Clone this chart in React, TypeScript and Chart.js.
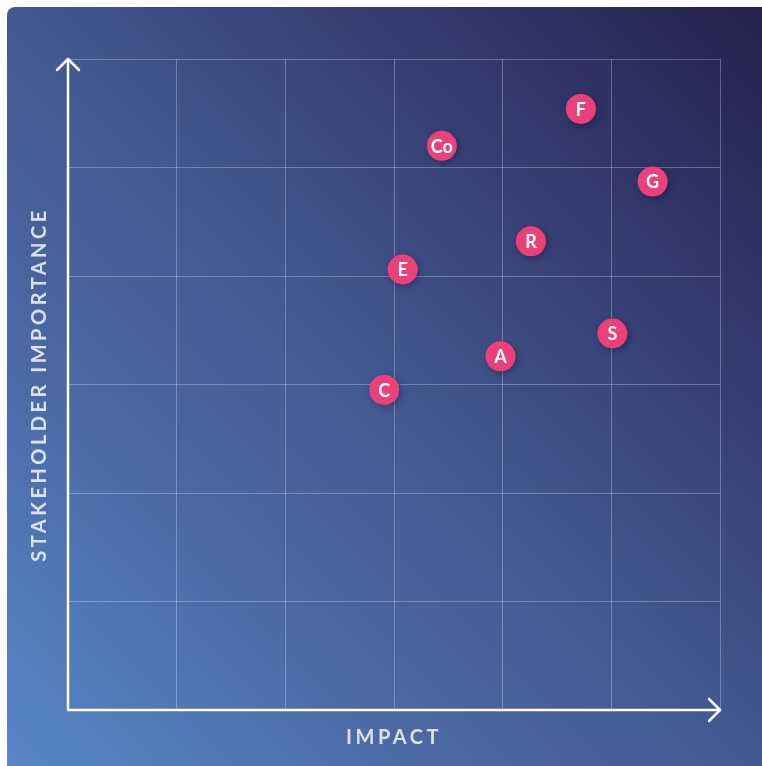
import React, { useEffect, useRef } from 'react';
import { Chart, registerables } from 'chart.js';

Chart.register(...registerables);

// ---- data ----
const pointLabels = ['F', 'Co', 'G', 'R', 'E', 'S', 'A', 'C'];
const impactValues = [4.72, 3.44, 5.38, 4.26, 3.08, 5.01, 3.98, 2.91];
const importanceValues = [5.54, 5.2, 4.87, 4.32, 4.06, 3.47, 3.26, 2.95];
const axisMin = 0;
const axisMax = 6;
const axisStep = 1;
const xAxisTitle = 'IMPACT';
const yAxisTitle = 'STAKEHOLDER IMPORTANCE';

const PINK = '#EC407A';

const decorPlugin = {
  id: 'decor',
  beforeDraw(chart: any) {
    (chart.ctx as any).letterSpacing = '3.5px';
  },
  beforeDatasetsDraw(chart: any) {
    const ctx = chart.ctx;
    (ctx as any).letterSpacing = '0px';
    const { left, right, top, bottom } = chart.chartArea;
    ctx.save();
    ctx.strokeStyle = '#ffffff';
    ctx.lineWidth = 2.5;
    ctx.lineCap = 'round';
    ctx.lineJoin = 'round';
    ctx.beginPath();
    ctx.moveTo(left, top);
    ctx.lineTo(left, bottom);
    ctx.lineTo(right, bottom);
    ctx.stroke();
    const a = 11;
    ctx.beginPath();
    ctx.moveTo(left - a, top + a);
    ctx.lineTo(left, top);
    ctx.lineTo(left + a, top + a);
    ctx.moveTo(right - a, bottom - a);
    ctx.lineTo(right, bottom);
    ctx.lineTo(right - a, bottom + a);
    ctx.stroke();
    ctx.restore();
  },
  beforeDatasetDraw(chart: any) {
    const ctx = chart.ctx;
    ctx.save();
    ctx.shadowColor = 'rgba(10, 10, 40, 0.35)';
    ctx.shadowBlur = 6;
    ctx.shadowOffsetX = 2;
    ctx.shadowOffsetY = 2;
  },
  afterDatasetDraw(chart: any) {
    chart.ctx.restore();
  },
  afterDatasetsDraw(chart: any) {
    const ctx = chart.ctx;
    const meta = chart.getDatasetMeta(0);
    ctx.save();
    ctx.fillStyle = '#ffffff';
    ctx.font = 'bold 18px Lato';
    ctx.textAlign = 'center';
    ctx.textBaseline = 'middle';
    meta.data.forEach((el: any, i: number) => {
      ctx.fillText(pointLabels[i], el.x, el.y + 1);
    });
    ctx.restore();
  },
};

export default function App() {
  const canvasRef = useRef<HTMLCanvasElement | null>(null);

  useEffect(() => {
    if (!canvasRef.current) return;
    const data = impactValues.map((x, i) => ({ x, y: importanceValues[i] }));
    const gridOpts = {
      color: 'rgba(255,255,255,0.28)',
      lineWidth: 1,
      drawTicks: false,
    };
    const chart = new Chart(canvasRef.current, {
      type: 'scatter',
      data: {
        labels: pointLabels,
        datasets: [
          {
            data,
            backgroundColor: PINK,
            borderWidth: 0,
            pointRadius: 15,
            pointHoverRadius: 15,
          },
        ],
      },
      options: {
        responsive: false,
        animation: false,
        devicePixelRatio: 1,
        layout: { padding: { left: 21, right: 42, top: 52, bottom: 16 } },
        plugins: { legend: { display: false }, tooltip: { enabled: false } },
        scales: {
          x: {
            type: 'linear',
            min: axisMin,
            max: axisMax,
            ticks: { display: false, stepSize: axisStep },
            grid: gridOpts,
            border: { display: false },
            title: {
              display: true,
              text: xAxisTitle,
              color: 'rgba(255,255,255,0.8)',
              font: { family: 'Lato', size: 20, weight: 'bold' },
              padding: { top: 16, bottom: 0 },
            },
          },
          y: {
            type: 'linear',
            min: axisMin,
            max: axisMax,
            ticks: { display: false, stepSize: axisStep },
            grid: gridOpts,
            border: { display: false },
            title: {
              display: true,
              text: yAxisTitle,
              color: 'rgba(255,255,255,0.8)',
              font: { family: 'Lato', size: 20, weight: 'bold' },
              padding: { top: 0, bottom: 16 },
            },
          },
        },
      },
      plugins: [decorPlugin],
    });
    return () => chart.destroy();
  }, []);

  return (
    <div
      style={{
        position: 'absolute',
        left: 7,
        top: 7,
        width: 755,
        height: 759,
        borderRadius: '8px 0 0 0',
        overflow: 'hidden',
        background:
          'linear-gradient(to top right, #5886c9 0%, #4a68a2 30%, #435891 50%, #363f73 72%, #25204d 100%)',
      }}
    >
      <canvas ref={canvasRef} width={755} height={759} style={{ display: 'block' }} />
    </div>
  );
}
